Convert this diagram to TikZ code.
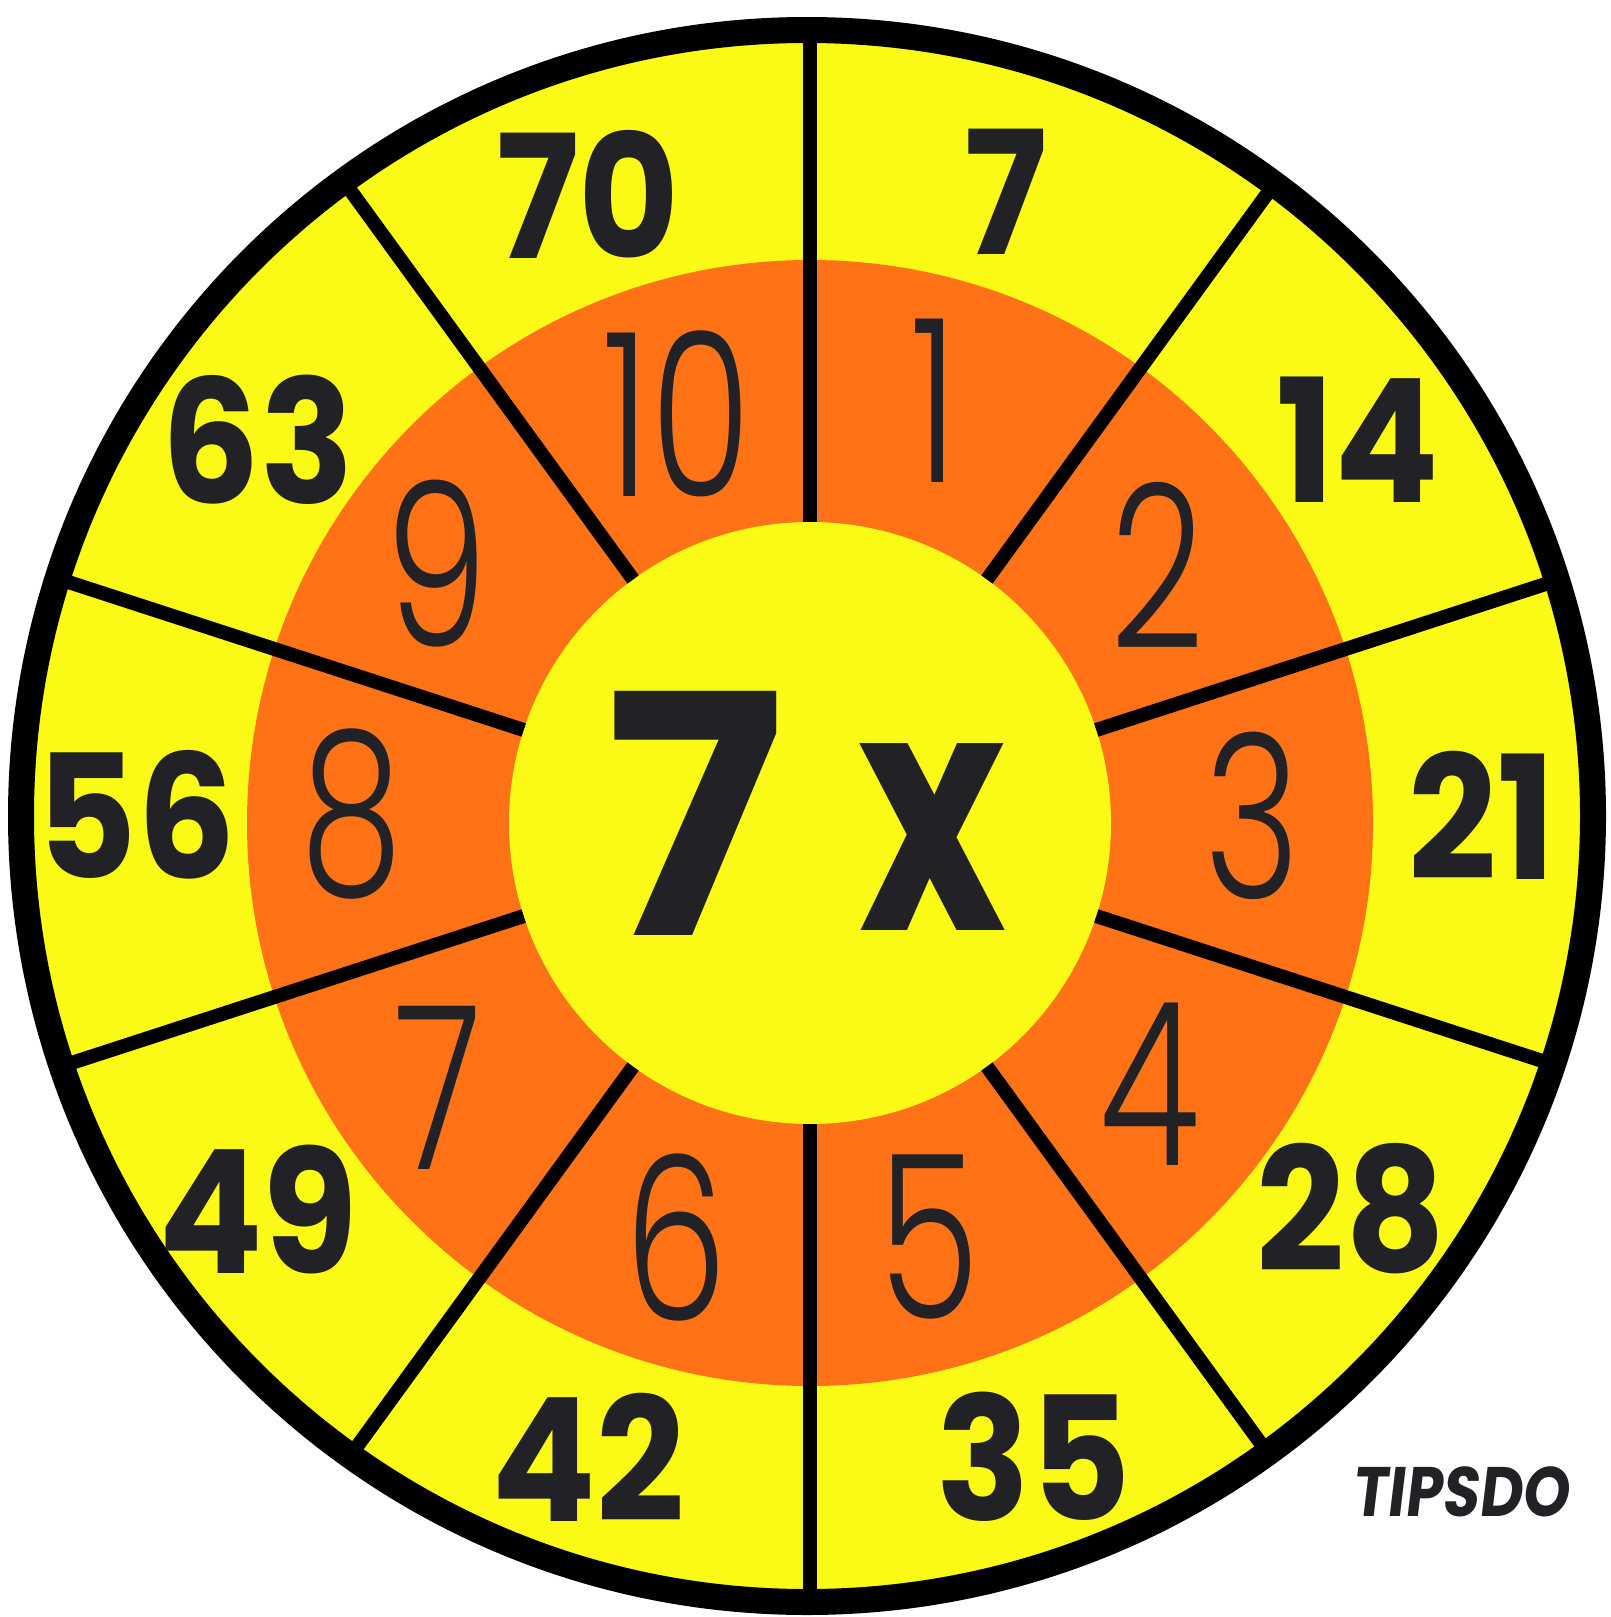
\documentclass[tikz,border=0pt]{standalone}
\usepackage{fontspec}
\setmainfont{Poppins}
\newfontfamily\thinf{Poppins Light}[FakeStretch=0.72]
\newfontfamily\outf{Poppins}[FakeStretch=0.9]
\newfontfamily\narrowf{Poppins}[FakeStretch=0.75]
\newfontfamily\markf{Poppins}[FakeStretch=0.85, FakeSlant=0.12]
\usetikzlibrary{calc}
\definecolor{wy}{RGB}{250,250,22}
\definecolor{wo}{RGB}{255,115,22}
\definecolor{ink}{RGB}{34,34,38}
\begin{document}
\begin{tikzpicture}[x=1pt,y=-1pt,
  outnum/.style={font=\outf\bfseries\fontsize{172}{172}\selectfont, text=ink, inner sep=0pt},
  innum/.style={font=\thinf\fontsize{228}{228}\selectfont, text=ink, inner sep=0pt},
  bignum/.style={font=\bfseries\fontsize{335}{335}\selectfont, text=ink, inner sep=0pt},
  spoke/.style={line width=14pt, draw=black}]
\useasboundingbox (0,0) rectangle (1610,1617);
\fill[white] (0,0) rectangle (1610,1617);
\coordinate (O) at (807,816);
\coordinate (C) at (810,823);
\fill[wy] (O) circle (790);
\fill[wo] (C) circle (563);
\fill[wy] (C) circle (301);
\begin{scope}
  \clip (O) circle (790);
  \foreach \a in {90,54,18,-18,-54,-90,-126,-162,162,126}
    \draw[spoke] ($(C)+(\a:301)$) -- ($(C)+(\a:900)$);
\end{scope}
\draw[line width=26pt] (O) circle (786);
% outer products
\node[outnum] (p7)  at (1006,192) {7};
\node[outnum] (p14) at (1358,440) {14};
\node[outnum] (p21) at (1482,815) {21};
\node[outnum] (p28) at (1351,1209) {28};
\node[outnum] (p35) at (1034,1457) {35};
\node[outnum] (p42) at (588,1457) {42};
\node[outnum] (p49) at (258,1209) {49};
\node[outnum] (p56) at (136,815) {56};
\node[outnum] (p63) at (258,440) {63};
\node[outnum] (p70) at (588,194) {70};
% inner multipliers
\node[innum] (m1)  at (934,401) {1};
\node[innum] (m2)  at (1157,565) {2};
\node[innum] (m3)  at (1253,816) {3};
\node[innum] (m4)  at (1150,1084) {4};
\node[innum] (m5)  at (929,1237) {5};
\node[innum] (m6)  at (676,1237) {6};
\node[innum] (m7)  at (438,1088) {7};
\node[innum] (m8)  at (352,814) {8};
\node[innum] (m9)  at (437,564) {9};
\node[innum] (m10) at (677,414) {10};
% centre
\node[bignum] (seven) at (695,813) {7};
\node[bignum, font=\narrowf\bfseries\fontsize{335}{335}\selectfont, anchor=base] (times) at (932,930) {x};
% mark
\node[font=\markf\bfseries\fontsize{70}{70}\selectfont, text=ink, inner sep=0pt] (mark) at (1460,1492) {TIPSDO};
\end{tikzpicture}
\end{document}
